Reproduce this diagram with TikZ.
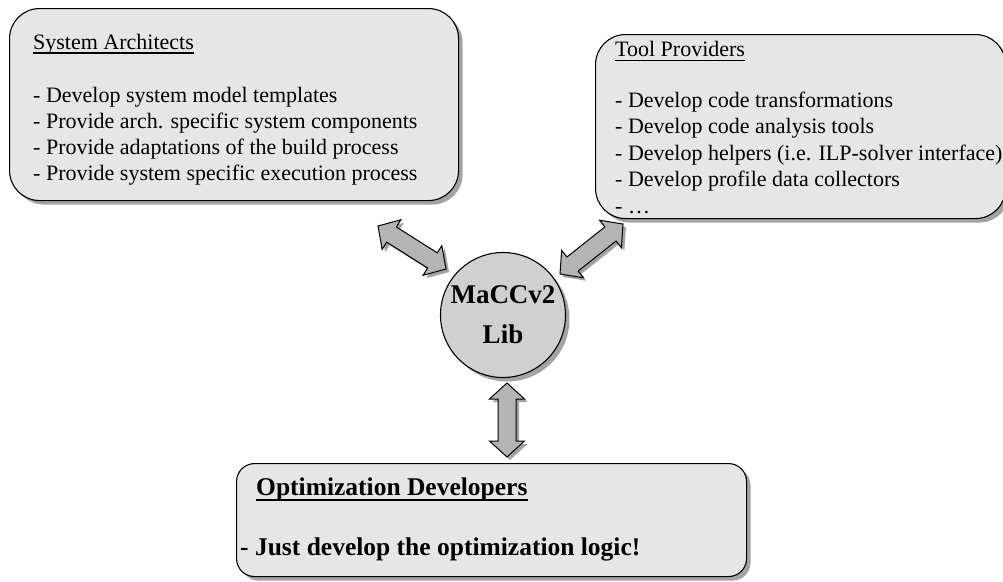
\documentclass[tikz,border=0pt]{standalone}
\usepackage{fontspec}
\setmainfont{Liberation Serif}
\usetikzlibrary{calc,shadows}

\definecolor{cardfill}{HTML}{E6E6E6}
\definecolor{hubfill}{HTML}{D0D0D0}
\definecolor{arrowfill}{HTML}{B4B4B4}
\definecolor{shadowgray}{HTML}{8C8C8C}

% block arrow with a head at both ends, drawn between two named points
\newcommand\ahl{16pt}% head length
\newcommand\ahw{17.5pt}% half width of the heads
\newcommand\asw{9pt}%  half width of the shaft
\newcommand\twoway[2]{%
  \draw[twoarrow] (#1)
    -- ($(#1)!\ahl!(#2)!\ahw!90:(#2)$)
    -- ($(#1)!\ahl!(#2)!\asw!90:(#2)$)
    -- ($(#2)!\ahl!(#1)!\asw!-90:(#1)$)
    -- ($(#2)!\ahl!(#1)!\ahw!-90:(#1)$)
    -- (#2)
    -- ($(#2)!\ahl!(#1)!\ahw!90:(#1)$)
    -- ($(#2)!\ahl!(#1)!\asw!90:(#1)$)
    -- ($(#1)!\ahl!(#2)!\asw!-90:(#2)$)
    -- ($(#1)!\ahl!(#2)!\ahw!-90:(#2)$)
    -- cycle;}

\begin{document}
\begin{tikzpicture}[x=1pt,y=-1pt,
  softshadow/.style={drop shadow={shadow xshift=4pt,shadow yshift=-4pt,
      fill=shadowgray,opacity=0.8}},
  card/.style={draw=black,line width=1.1pt,fill=cardfill,softshadow,
      inner sep=0pt,anchor=north west},
  hub/.style={circle,draw=black,line width=1.1pt,fill=hubfill,softshadow,
      inner sep=0pt,minimum size=125pt,align=center,
      font=\fontsize{27}{40}\selectfont\bfseries},
  twoarrow/.style={draw=black,line width=1pt,fill=arrowfill,line join=miter,
      drop shadow={shadow xshift=3pt,shadow yshift=-3pt,fill=shadowgray,opacity=0.8}},
  item/.style={anchor=base west,inner sep=0pt,font=\fontsize{22}{26}\selectfont},
  bigitem/.style={anchor=base west,inner sep=0pt,
      font=\fontsize{25.5}{30}\selectfont\bfseries},
  uline/.style={line width=1.1pt},
]
\useasboundingbox (0,0) rectangle (1003,581);

% the three role cards
\node[card,rounded corners=30pt,minimum width=449pt,minimum height=192pt]
  (arch) at (9,8) {};
\node[card,rounded corners=30pt,minimum width=410pt,minimum height=184pt]
  (tools) at (595,34) {};
\node[card,rounded corners=18pt,minimum width=510pt,minimum height=113pt]
  (opt) at (236,463) {};

% the library in the middle
\node[hub] (lib) at (503,315) {MaCCv2\\Lib};

% system architects
\node[item] (archhead) at (33,49) {System Architects};
\draw[uline] ($(archhead.base west)+(0,4)$) -- ($(archhead.base east)+(0,4)$);
\foreach \t [count=\i] in {Develop system model templates,
    Provide arch. specific system components,
    Provide adaptations of the build process,
    Provide system specific execution process}
  \node[item] (arch\i) at (33,{76+26*\i}) {- \t};

% tool providers
\node[item] (toolshead) at (615,56.5) {Tool Providers};
\draw[uline] ($(toolshead.base west)+(0,4)$) -- ($(toolshead.base east)+(0,4)$);
\foreach \t [count=\i] in {Develop code transformations,
    Develop code analysis tools,
    Develop helpers (i.e. ILP-solver interface),
    Develop profile data collectors,
    \dots}
  \node[item] (tools\i) at (615,{81.1+26.4*\i}) {- \t};

% optimization developers
\node[bigitem] (opthead) at (256,495) {Optimization Developers};
\draw[uline,line width=1.4pt] ($(opthead.base west)+(0,5)$) -- ($(opthead.base east)+(0,5)$);
\node[bigitem] (opt1) at (240,555) {- Just develop the optimization logic!};

% two-way links between the library and the cards
\coordinate (archlink) at (378,226);
\coordinate (libarch)  at (446,269);
\coordinate (toolslink) at (623,224);
\coordinate (libtools)  at (560,274);
\coordinate (libopt) at (507,383);
\coordinate (optlink) at (507,457);
\twoway{archlink}{libarch}
\twoway{toolslink}{libtools}
\twoway{libopt}{optlink}
\end{tikzpicture}
\end{document}
